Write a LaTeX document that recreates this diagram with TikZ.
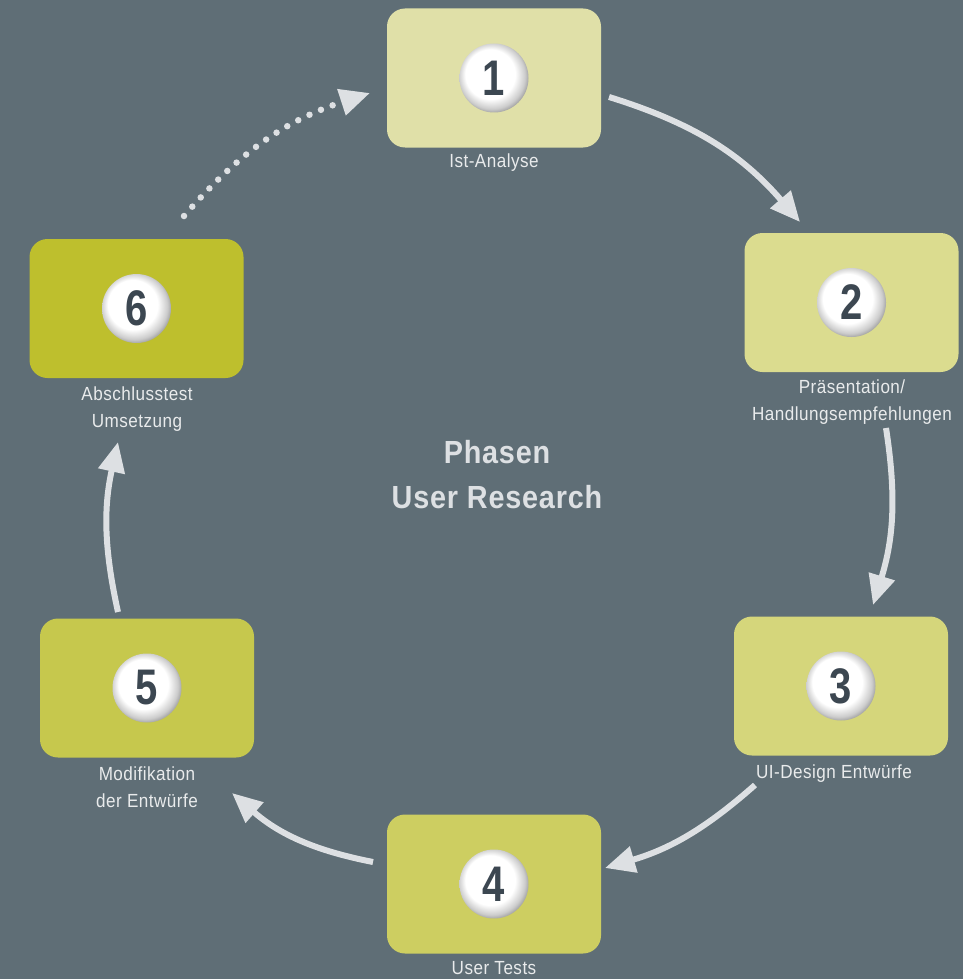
\documentclass[tikz,border=0pt]{standalone}
\usepackage{fontspec}
\setmainfont[FakeStretch=0.9,LetterSpace=2.5]{Liberation Sans}
\newfontfamily\numfont[FakeStretch=0.8]{Liberation Sans}
\usetikzlibrary{arrows.meta}
\definecolor{bg}{HTML}{5F6E76}
\definecolor{boxa}{HTML}{E0E0A8}
\definecolor{boxb}{HTML}{DBDC8F}
\definecolor{boxc}{HTML}{D5D67B}
\definecolor{boxd}{HTML}{CDCE61}
\definecolor{boxe}{HTML}{C6C84D}
\definecolor{boxf}{HTML}{BEBF2D}
\definecolor{arrowc}{HTML}{DDE0E3}
\definecolor{labelc}{HTML}{E9EBEC}
\definecolor{numc}{HTML}{3C4751}
\pgfdeclareradialshading{numball}{\pgfpoint{-6bp}{6bp}}{color(0bp)=(white);color(18bp)=(white);color(24bp)=(white!80!black);color(29bp)=(white!48!black);color(33bp)=(white!28!black)}
\tikzset{
  phasebox/.style={rectangle, rounded corners=18pt, minimum width=214pt, minimum height=139pt, draw=none, inner sep=0pt},
  numball/.style={circle, minimum size=69pt, inner sep=0pt, shading=numball, text=numc, font=\numfont\fontsize{50}{50}\selectfont\bfseries},
  lbl/.style={text=labelc, font=\fontsize{19}{26.5}\selectfont, align=center, inner sep=0pt, anchor=north},
  flow/.style={line width=6pt, draw=arrowc, -{Triangle[length=30pt,width=26pt,fill=arrowc]}},
  dotflow/.style={line width=6.5pt, draw=arrowc, line cap=round, dash pattern=on 0pt off 12.5pt, -{Triangle[length=30pt,width=26pt,fill=arrowc,line cap=butt]}}
}
\begin{document}
\begin{tikzpicture}[x=1pt,y=1pt]
\useasboundingbox (0,0) rectangle (963,-979);
\fill[bg] (0,0) rectangle (963,-979);

% boxes
\node[phasebox, fill=boxa] (b1) at (494,-78) {};
\node[phasebox, fill=boxb] (b2) at (851.5,-302.5) {};
\node[phasebox, fill=boxc] (b3) at (841,-686) {};
\node[phasebox, fill=boxd] (b4) at (494,-884) {};
\node[phasebox, fill=boxe] (b5) at (147,-688) {};
\node[phasebox, fill=boxf] (b6) at (136.5,-308.5) {};

% number balls
\node[numball] (n1) at (b1.center) {1};
\node[numball] (n2) at (b2.center) {2};
\node[numball] (n3) at (b3.center) {3};
\node[numball] (n4) at (b4.center) {4};
\node[numball] (n5) at (b5.center) {5};
\node[numball] (n6) at (b6.center) {6};

% labels
\node[lbl] (l1) at (494,-154) {Ist-Analyse};
\node[lbl] (l2) at (852,-380) {Präsentation/\\Handlungsempfehlungen};
\node[lbl] (l3) at (834,-765) {UI-Design Entwürfe};
\node[lbl] (l4) at (494,-961) {User Tests};
\node[lbl] (l5) at (147,-767) {Modifikation\\der Entwürfe};
\node[lbl] (l6) at (137,-387) {Abschlusstest\\Umsetzung};

% title
\node[text=arrowc, font=\fontsize{32}{45}\selectfont\bfseries, align=center, inner sep=0pt, anchor=north] (title) at (497,-440) {Phasen\\User Research};

% arrow end points
\coordinate (s12) at (609,-97);  \coordinate (e12) at (800,-222);
\coordinate (s23) at (886,-428); \coordinate (e23) at (873,-605);
\coordinate (s34) at (755,-785); \coordinate (e34) at (605,-868);
\coordinate (s45) at (373,-862); \coordinate (e45) at (232,-793);
\coordinate (s56) at (118,-612); \coordinate (e56) at (118,-442);
\coordinate (s61) at (184,-216); \coordinate (e61) at (370,-93);

\draw[flow] (s12) to[bend left=16] (e12);
\draw[flow] (s23) to[bend left=13] (e23);
\draw[flow] (s34) to[bend left=12.5] (e34);
\draw[flow] (s45) to[bend left=15] (e45);
\draw[flow] (s56) to[bend left=12.5] (e56);
\draw[dotflow] (s61) to[bend left=15.5] (e61);
\end{tikzpicture}
\end{document}
